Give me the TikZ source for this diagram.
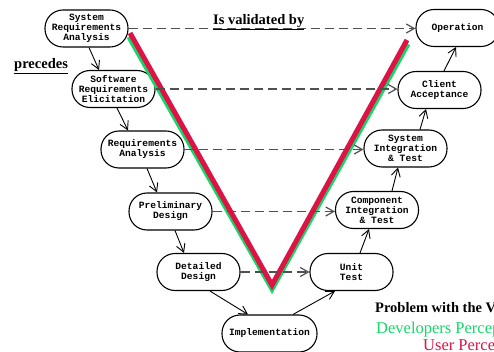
\documentclass[tikz,border=0pt]{standalone}
\usepackage{fontspec}
\setmainfont{Liberation Serif}
\newfontfamily\codefont{Liberation Mono}
\usetikzlibrary{arrows.meta}
\definecolor{vgreen}{RGB}{20,215,105}
\definecolor{vred}{RGB}{222,18,68}
\definecolor{dashgray}{RGB}{80,80,80}
\begin{document}
\begin{tikzpicture}[x=1pt,y=-1pt,
  phase/.style={draw, line width=1.1pt, rounded corners=18pt, minimum width=83pt,
    minimum height=37pt, inner sep=1pt, align=center,
    font=\codefont\bfseries\fontsize{9.6}{10}\selectfont},
  seq/.style={-{Straight Barb[length=8pt,width=9pt]}, line width=0.9pt},
  valid/.style={-{Straight Barb[length=8pt,width=9pt]}, dash pattern=on 9pt off 5pt,
    line width=1.2pt, draw=dashgray},
  caption/.style={font=\bfseries\fontsize{14.5}{16}\selectfont, anchor=base west, inner sep=0pt},
  vleg/.style={line width=5pt, line join=miter}]
\useasboundingbox (0,0) rectangle (494,352);
\clip (0,0) rectangle (494,352);

% left side of the V: specification phases
\node[phase] (sra)  at (86.5,28.5)  {System\\Requirements\\Analysis};
\node[phase] (sre)  at (113.5,89)   {Software\\Requirements\\Elicitation};
\node[phase] (ra)   at (142.5,149.5){Requirements\\Analysis};
\node[phase] (pd)   at (170.5,211.5){Preliminary\\Design};
\node[phase] (dd)   at (198.5,272)  {Detailed\\Design};
\node[phase, minimum width=95pt] (impl) at (269.5,333.5) {Implementation};
% right side of the V: testing phases
\node[phase] (ut)   at (351.5,272)  {Unit\\Test};
\node[phase] (cit)  at (377,210)    {Component\\Integration\\\& Test};
\node[phase] (sit)  at (405.5,148.5){System\\Integration\\\& Test};
\node[phase] (ca)   at (439.5,90)   {Client\\Acceptance};
\node[phase] (op)   at (457.5,28)   {Operation};

% the two perceptions of the V
\draw[vleg, vgreen] (129,37) -- (272,289) -- (408,44);
\draw[vleg, vred]   (130,33) -- (272,285) -- (407,40);

% "precedes" chain
\draw[seq] ([xshift=2.5pt]sra.south)  -- ([xshift=-14.5pt]sre.north);
\draw[seq] ([xshift=3.5pt]sre.south)  -- ([xshift=-14.5pt]ra.north);
\draw[seq] ([xshift=4.5pt]ra.south)   -- ([xshift=-13.5pt]pd.north);
\draw[seq] ([xshift=4.5pt]pd.south)   -- ([xshift=-14.5pt]dd.north);
\draw[seq] ([xshift=11.5pt]dd.south)  -- ([xshift=-21.5pt]impl.north);
\draw[seq] ([xshift=23.5pt]impl.north)-- ([xshift=-16.5pt]ut.south);
\draw[seq] ([xshift=8.5pt]ut.north)   -- ([xshift=-8pt]cit.south);
\draw[seq] ([xshift=15pt]cit.north)   -- ([xshift=-7.5pt]sit.south);
\draw[seq] ([xshift=14.5pt]sit.north) -- ([xshift=-13.5pt]ca.south);
\draw[seq] ([xshift=4.5pt]ca.north)   -- ([xshift=-1.5pt]op.south);

% "is validated by" links
\draw[valid] (sra.east) -- (sra.east -| op.west);
\draw[valid] (sre.east) -- (sre.east -| ca.west);
\draw[valid] (ra.east)  -- (ra.east -| sit.west);
\draw[valid] (pd.east)  -- (pd.east -| cit.west);
\draw[valid] (dd.east)  -- (dd.east -| ut.west);

% labels
\node[caption] (lblval) at (213,25) {\underline{Is validated by}};
\node[caption] (lblpre) at (14,69)  {\underline{precedes}};
\node[caption] (ptitle) at (375,312) {Problem with the V-Model};
\node[anchor=base west, inner sep=0pt, font=\fontsize{16.5}{18}\selectfont, text=vgreen]
  (pdev) at (376,333) {Developers Perception};
\node[anchor=base west, inner sep=0pt, font=\fontsize{16.5}{18}\selectfont, text=vred]
  (puser) at (423,350) {User Perception};
\end{tikzpicture}
\end{document}
